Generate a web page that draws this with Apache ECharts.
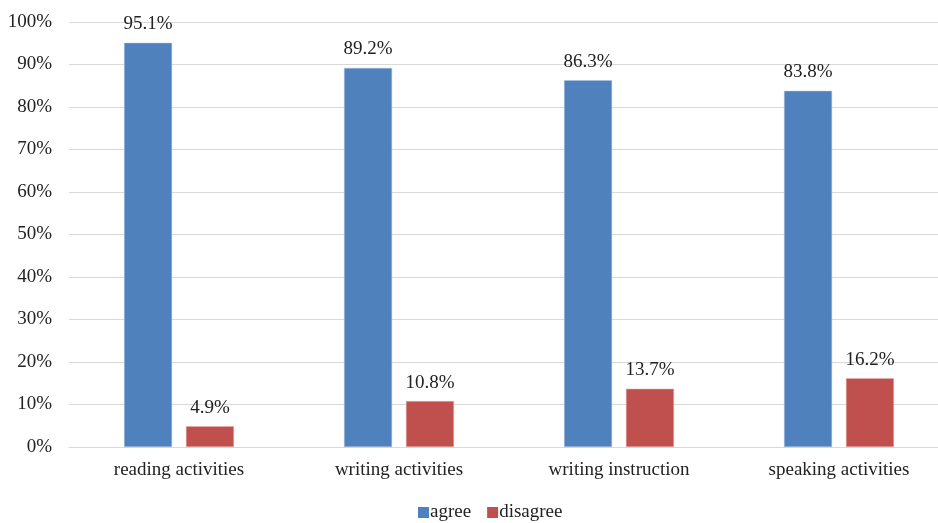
<!DOCTYPE html>
<html><head><meta charset="utf-8">
<script src="https://cdn.jsdelivr.net/npm/echarts@6/dist/echarts.min.js"></script>
<style>html,body{margin:0;padding:0;background:#fff}#c{width:938px;height:523px}</style>
</head><body><div id="c"></div>
<script>
const categories = ['reading activities','writing activities','writing instruction','speaking activities'];
const agree = [95.1, 89.2, 86.3, 83.8];
const disagree = [4.9, 10.8, 13.7, 16.2];
const font = 'Liberation Serif, Times New Roman, serif';
const chart = echarts.init(document.getElementById('c'));
const lbl = {show:true, position:'top', distance:9, color:'#222', fontFamily:font, fontSize:19, formatter: p => p.value.toFixed(1)+'%'};
chart.setOption({
  animation:false,
  grid:{left:69, width:880, top:22, bottom:76, outerBoundsMode:'none', containLabel:false},
  legend:{bottom:-4, left:413, itemWidth:11, itemHeight:11, itemGap:16,
    itemStyle:{borderWidth:0},
    textStyle:{fontFamily:font, fontSize:19, color:'#222', padding:[0,0,0,-4]},
    data:[{name:'agree', icon:'rect'},{name:'disagree', icon:'rect'}]},
  xAxis:{type:'category', data:categories, axisTick:{show:false},
    axisLine:{lineStyle:{color:'#d9d9d9'}},
    axisLabel:{fontFamily:font, fontSize:19, color:'#222', margin:14}},
  yAxis:{type:'value', min:0, max:100, interval:10,
    axisLine:{show:false}, axisTick:{show:false},
    splitLine:{lineStyle:{color:'#d9d9d9', width:1}},
    axisLabel:{fontFamily:font, fontSize:19, color:'#222', margin:17, formatter: v => v+'%'}},
  series:[
    {name:'agree', type:'bar', data:agree, barWidth:48, barGap:'29%', itemStyle:{color:'#4F81BD', borderColor:'#a9c1e0', borderWidth:0.5}, label:lbl},
    {name:'disagree', type:'bar', data:disagree, barWidth:48, itemStyle:{color:'#C0504D', borderColor:'#e5b0ae', borderWidth:0.5}, label:lbl}
  ]
});
</script></body></html>
